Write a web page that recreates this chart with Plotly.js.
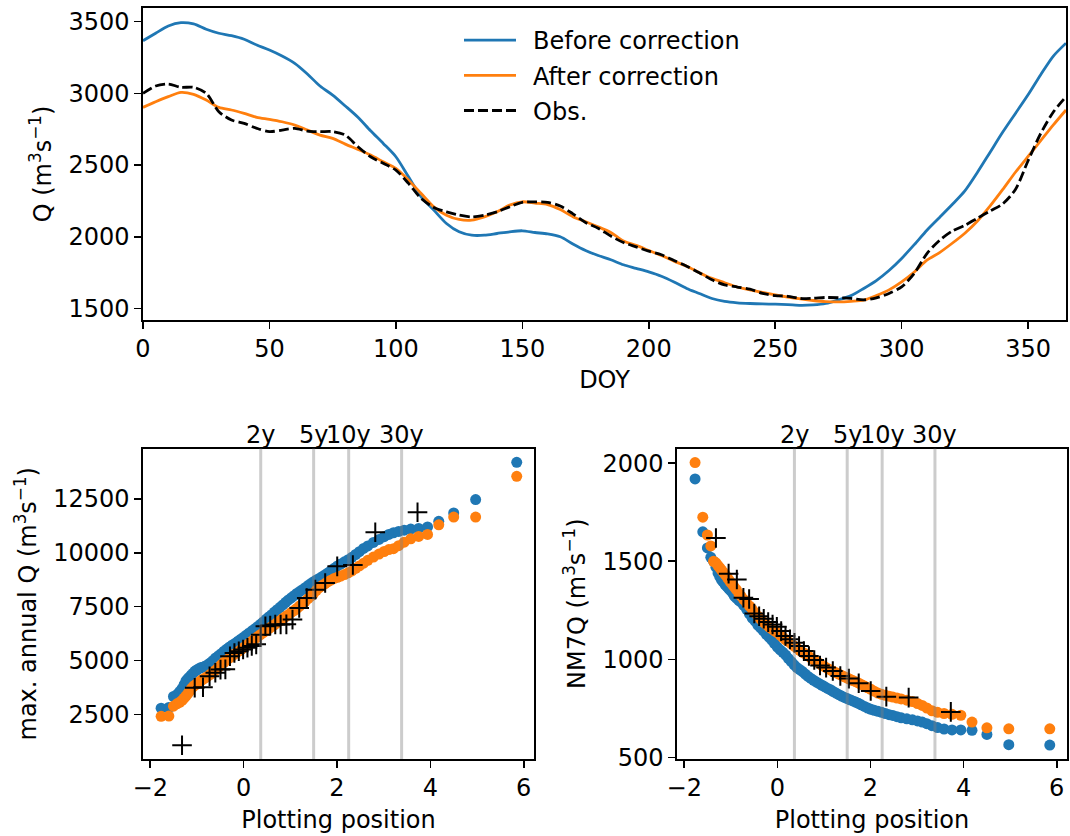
<!DOCTYPE html>
<html>
<head>
<meta charset="utf-8">
<script src="https://cdn.plot.ly/plotly-3.0.1.min.js"></script>
<style>html,body{margin:0;padding:0;background:#fff;}#chart{width:1070px;height:836px;}</style>
</head>
<body>
<div id="chart"></div>
<script>
// ---------- Top panel: daily mean discharge ----------
const doy = [0,5,10,15,20,25,30,35,40,45,50,55,60,65,70,75,80,85,90,95,100,105,110,115,120,125,130,135,140,145,150,155,160,165,170,175,180,185,190,195,200,205,210,215,220,225,230,235,240,245,250,255,260,265,270,275,280,285,290,295,300,305,310,315,320,325,330,335,340,345,350,355,360,365];
const qBefore = [3367,3419,3470,3493,3484,3447,3419,3402,3377,3337,3302,3260,3209,3135,3051,2988,2912,2833,2739,2651,2558,2418,2279,2186,2093,2035,2011,2011,2023,2035,2042,2030,2020,2000,1950,1905,1870,1840,1805,1780,1755,1725,1685,1640,1605,1570,1550,1540,1535,1532,1530,1527,1522,1525,1535,1560,1590,1640,1695,1765,1849,1945,2046,2135,2225,2320,2450,2590,2730,2860,2990,3130,3260,3350];
const qAfter = [2902,2942,2977,3007,2993,2953,2902,2884,2860,2833,2819,2802,2779,2744,2709,2686,2646,2609,2570,2523,2477,2395,2302,2209,2151,2121,2116,2139,2174,2221,2244,2235,2225,2190,2140,2105,2070,2030,1970,1940,1905,1870,1830,1795,1750,1710,1680,1650,1630,1612,1595,1580,1567,1556,1548,1546,1550,1558,1590,1630,1686,1755,1837,1890,1955,2025,2110,2215,2330,2450,2560,2670,2780,2884];
const qObs = [3000,3051,3065,3042,3042,3000,2872,2814,2791,2756,2733,2744,2756,2737,2733,2733,2709,2628,2558,2512,2465,2372,2267,2205,2174,2151,2139,2151,2174,2209,2240,2244,2240,2215,2160,2100,2060,2005,1960,1930,1900,1875,1835,1795,1750,1700,1665,1650,1635,1605,1590,1585,1570,1572,1577,1575,1570,1560,1575,1605,1651,1745,1883,1975,2040,2080,2130,2180,2230,2330,2530,2720,2870,2977];

// ---------- Bottom panels: plotting positions ----------
const modelPos = [-1.767,-1.601,-1.502,-1.429,-1.370,-1.319,-1.274,-1.235,-1.199,-1.166,-1.12,-1.078,-1.04,-1.003,-0.96,-0.923,-0.88,-0.824,-0.78,-0.72,-0.66,-0.60,-0.54,-0.48,-0.42,-0.36,-0.30,-0.24,-0.18,-0.12,-0.06,0.0,0.06,0.12,0.18,0.24,0.30,0.36,0.42,0.48,0.54,0.60,0.66,0.72,0.78,0.84,0.90,0.96,1.02,1.08,1.14,1.20,1.26,1.32,1.38,1.44,1.50,1.56,1.62,1.68,1.74,1.80,1.87,1.94,2.01,2.08,2.16,2.24,2.32,2.40,2.48,2.57,2.66,2.78,2.90,3.01,3.11,3.21,3.32,3.44,3.58,3.75,3.94,4.18,4.50,4.97,5.85];
const maxBefore = [2790,2820,3330,3420,3560,3700,3880,4050,4150,4220,4330,4420,4510,4560,4620,4660,4690,4740,4790,4880,4990,5120,5220,5320,5430,5530,5630,5720,5800,5900,5990,6080,6180,6280,6380,6470,6570,6680,6790,6910,7020,7130,7250,7360,7470,7580,7700,7810,7910,8010,8110,8200,8290,8380,8480,8570,8660,8740,8810,8890,8970,9060,9170,9280,9390,9480,9580,9680,9790,9920,10050,10200,10320,10480,10620,10750,10850,10930,10990,11050,11100,11130,11200,11460,11850,12470,14200];
const maxAfter = [2410,2420,2880,2990,3060,3150,3260,3350,3450,3560,3700,3800,3860,3920,3990,4060,4120,4190,4250,4350,4450,4550,4680,4800,4920,5020,5120,5220,5320,5410,5500,5600,5700,5800,5900,6010,6100,6200,6290,6380,6480,6570,6660,6760,6850,6950,7040,7130,7230,7320,7420,7530,7640,7750,7870,7990,8120,8260,8380,8480,8560,8650,8730,8810,8860,8920,8990,9070,9160,9280,9390,9520,9650,9800,9940,10060,10150,10190,10330,10490,10650,10760,10850,11300,11660,11660,13550];
const nm7Before = [1920,1650,1568,1520,1500,1470,1440,1420,1405,1395,1380,1370,1360,1350,1338,1322,1312,1300,1292,1275,1255,1232,1210,1195,1175,1160,1145,1128,1114,1098,1080,1062,1048,1036,1022,1004,988,972,958,948,938,925,913,903,893,884,876,868,860,852,845,836,828,820,813,806,800,794,788,782,776,768,760,752,745,740,735,730,724,718,714,708,702,697,692,686,680,672,662,652,645,640,640,638,617,565,563];
const nm7After = [2003,1725,1634,1578,1500,1492,1478,1466,1455,1445,1432,1418,1405,1392,1380,1368,1355,1335,1322,1305,1288,1272,1255,1238,1220,1205,1190,1178,1166,1155,1145,1136,1124,1112,1100,1090,1080,1068,1057,1046,1036,1028,1018,1008,998,988,980,970,962,954,946,939,932,925,918,911,905,898,892,886,880,872,864,855,847,838,828,822,817,812,808,803,798,792,785,775,765,752,738,730,724,720,715,680,651,646,646];
const obsPos = [-1.319,-1.047,-0.870,-0.729,-0.606,-0.495,-0.391,-0.292,-0.197,-0.103,-0.011,0.082,0.175,0.270,0.367,0.466,0.570,0.678,0.793,0.916,1.047,1.191,1.352,1.535,1.747,2.005,2.340,2.820,3.725];
const maxObs = [1070,3740,3760,4270,4430,4580,4590,5200,5350,5430,5510,5590,5680,5750,6200,6590,6620,6670,6670,6680,6900,7440,7900,8290,8600,9370,9430,10950,11880];
const nm7Obs = [1619,1437,1407,1314,1308,1234,1220,1207,1190,1178,1166,1144,1119,1102,1085,1068,1042,1017,997,969,958,941,915,902,878,839,810,805,732];

// return periods shown as vertical lines (Gumbel reduced variate)
const rpLabels = ['2y','5y','10y','30y'];
const rpPos = [0.3665, 1.4999, 2.2504, 3.3843];

// tick labels
const topXTicks = [0,50,100,150,200,250,300,350];
const topYTicks = [1500,2000,2500,3000,3500];
const ppTicks = [-2,0,2,4,6];
const ppTickText = ['−2','0','2','4','6'];
const maxQTicks = [2500,5000,7500,10000,12500];
const maxQTickText = ['2500','5000','7500','10000','12500'];
const nm7Ticks = [500,1000,1500,2000];

const seriesNames = ['Before correction','After correction','Obs.'];
const C_BLUE = '#1f77b4', C_ORANGE = '#ff7f0e';
const FONT = 'DejaVu Sans, Verdana, sans-serif';
const FS = 24;
const PAD = '\u2002';

const traces = [
  {x: doy, y: qBefore, name: PAD + seriesNames[0], legendgroup:'a', type:'scatter', mode:'lines', line:{color:C_BLUE, width:2.8, shape:'spline', smoothing:0.8}, xaxis:'x', yaxis:'y'},
  {x: doy, y: qAfter, name: PAD + seriesNames[1], legendgroup:'b', type:'scatter', mode:'lines', line:{color:C_ORANGE, width:2.8, shape:'spline', smoothing:0.8}, xaxis:'x', yaxis:'y'},
  {x: doy, y: qObs, name: PAD + seriesNames[2], legendgroup:'c', type:'scatter', mode:'lines', line:{color:'#000', width:2.8, dash:'10px,4px', shape:'spline', smoothing:0.8}, xaxis:'x', yaxis:'y'}
];
function scatterSet(yB, yA, yO, xa, ya) {
  traces.push({x: modelPos, y: yB, type:'scatter', mode:'markers', showlegend:false, xaxis:xa, yaxis:ya,
    marker:{color:C_BLUE, size:11, line:{width:0}}});
  traces.push({x: modelPos, y: yA, type:'scatter', mode:'markers', showlegend:false, xaxis:xa, yaxis:ya,
    marker:{color:C_ORANGE, size:11, line:{width:0}}});
  traces.push({x: obsPos, y: yO, type:'scatter', mode:'markers', showlegend:false, xaxis:xa, yaxis:ya,
    marker:{symbol:'cross-thin', size:14, color:'#000', line:{color:'#000', width:2}}});
}
scatterSet(maxBefore, maxAfter, maxObs, 'x2', 'y2');
scatterSet(nm7Before, nm7After, nm7Obs, 'x3', 'y3');

const axBase = {
  showgrid:false, zeroline:false, showline:true, mirror:true, linecolor:'#000', linewidth:1.6,
  ticks:'outside', ticklen:7, tickwidth:1.6, tickcolor:'#000',
  tickfont:{family:FONT, size:FS, color:'#000'}
};
function ax(extra){ return Object.assign({}, axBase, extra); }
const W = 1070, H = 836;

const shapes = [], annotations = [];
[['x2','y2'],['x3','y3']].forEach(([xa, ya]) => {
  rpPos.forEach((p, i) => {
    shapes.push({type:'line', xref:xa, yref:ya+' domain', x0:p, x1:p, y0:0, y1:1,
      line:{color:'rgba(128,128,128,0.4)', width:3}, layer:'above'});
    annotations.push({xref:xa, yref:ya+' domain', x:p, y:1, yanchor:'bottom', xanchor:'center',
      text:rpLabels[i], showarrow:false, yshift:-2, font:{family:FONT, size:FS, color:'#000'}});
  });
});

const layout = {
  width:W, height:H, margin:{l:0,r:0,t:0,b:0}, paper_bgcolor:'#fff', plot_bgcolor:'#fff',
  font:{family:FONT, size:FS, color:'#000'},
  xaxis: ax({domain:[143/W, 1066/W], anchor:'y', range:[0,365], tickvals:topXTicks,
    title:{text:'DOY', font:{family:FONT, size:FS}, standoff:9}}),
  yaxis: ax({domain:[1-320/H, 1-8/H], anchor:'x', range:[1420,3595], tickvals:topYTicks,
    title:{text:'Q (m<sup>3</sup>s<sup>−1</sup>)', font:{family:FONT, size:FS}, standoff:10}}),
  xaxis2: ax({domain:[143/W, 534/W], anchor:'y2', range:[-2.155,6.22], tickvals:ppTicks, ticktext:ppTickText,
    title:{text:'Plotting position', font:{family:FONT, size:FS}, standoff:10}}),
  yaxis2: ax({domain:[1-759/H, 1-448.5/H], anchor:'x2', range:[430,14840], tickvals:maxQTicks, ticktext:maxQTickText,
    title:{text:'max. annual Q (m<sup>3</sup>s<sup>−1</sup>)', font:{family:FONT, size:FS}, standoff:10}}),
  xaxis3: ax({domain:[677/W, 1067/W], anchor:'y3', range:[-2.155,6.22], tickvals:ppTicks, ticktext:ppTickText,
    title:{text:'Plotting position', font:{family:FONT, size:FS}, standoff:10}}),
  yaxis3: ax({domain:[1-759/H, 1-448.5/H], anchor:'x3', range:[492,2075], tickvals:nm7Ticks,
    title:{text:'NM7Q (m<sup>3</sup>s<sup>−1</sup>)', font:{family:FONT, size:FS}, standoff:10}}),
  legend:{x:459/W, y:1-18/H, xanchor:'left', yanchor:'top', bgcolor:'rgba(255,255,255,0)', borderwidth:0,
    font:{family:FONT, size:FS, color:'#000'}, itemwidth:52, tracegroupgap:1},
  showlegend:true,
  shapes: shapes,
  annotations: annotations
};

Plotly.newPlot('chart', traces, layout, {displayModeBar:false, staticPlot:true});
</script>
</body>
</html>
